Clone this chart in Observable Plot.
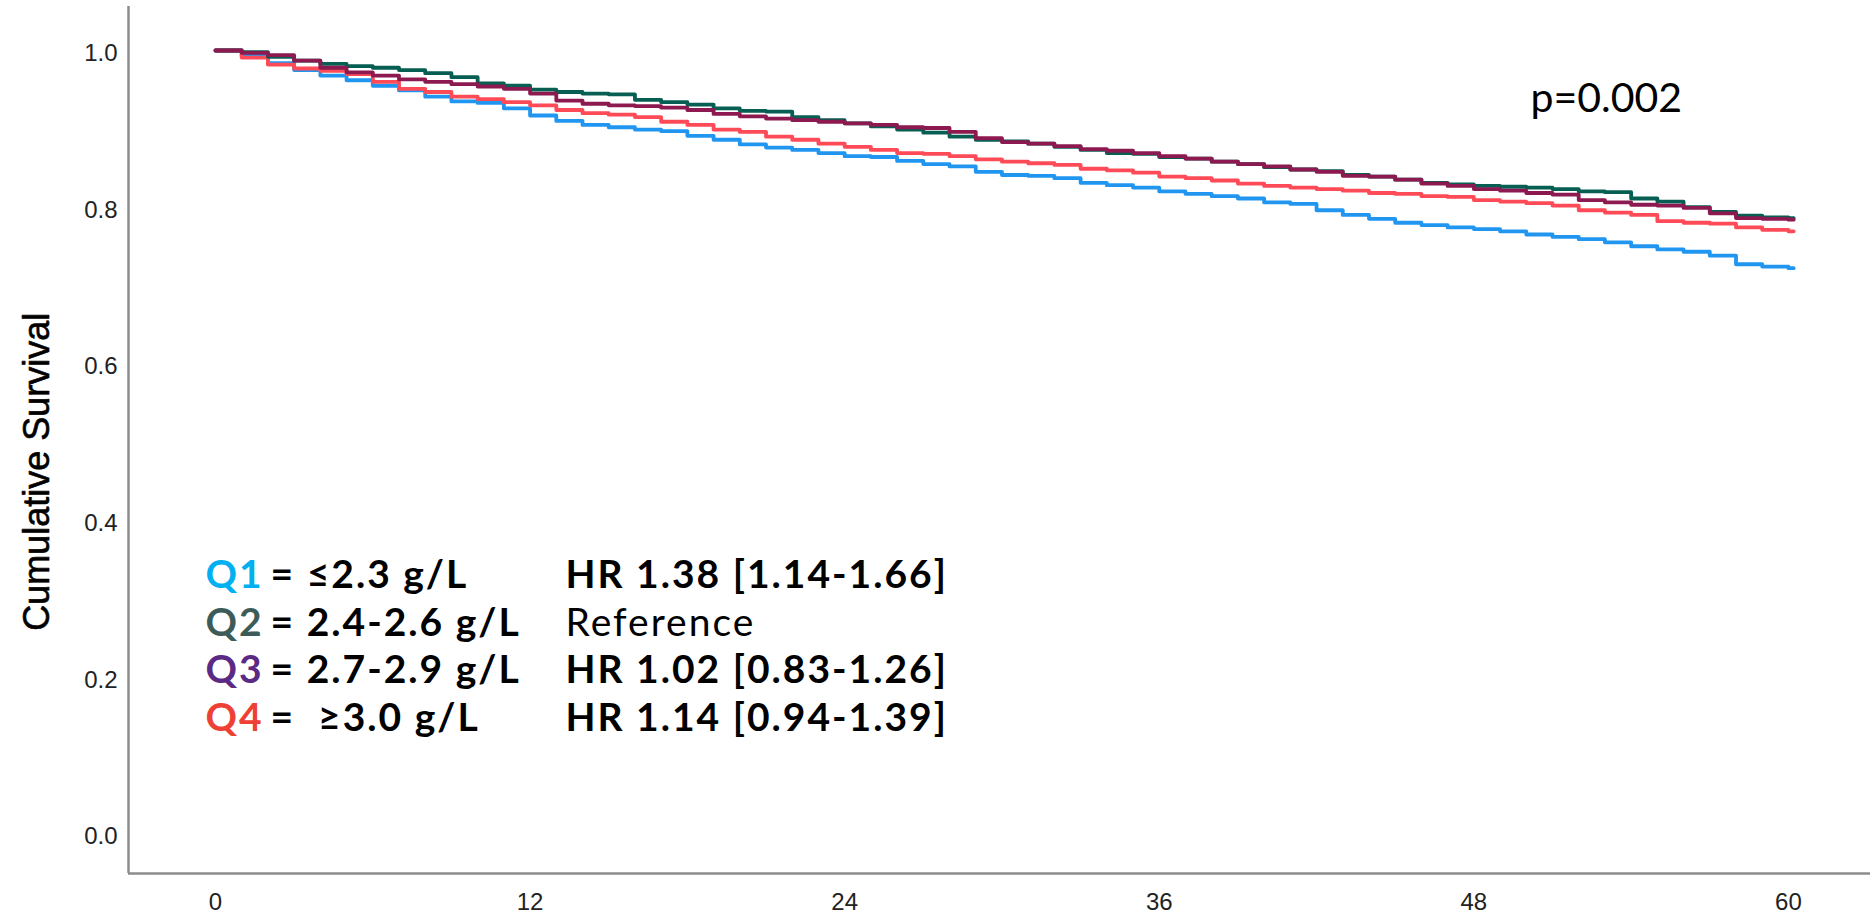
<!DOCTYPE html>
<html>
<head>
<meta charset="utf-8">
<script src="https://cdn.jsdelivr.net/npm/d3@7"></script>
<script src="https://cdn.jsdelivr.net/npm/@observablehq/plot@0.6"></script>
<style>
  html, body { margin: 0; padding: 0; background: #fff; }
  #chart svg { display: block; }
</style>
</head>
<body>
<div id="chart"></div>
<script>
// ---- Data ----
const months = [0,1,2,3,4,5,6,7,8,9,10,11,12,13,14,15,16,17,18,19,20,21,22,23,24,25,26,27,28,29,30,31,32,33,34,35,36,37,38,39,40,41,42,43,44,45,46,47,48,49,50,51,52,53,54,55,56,57,58,59,60,60.2];

const survQ1 = [1.000,0.993,0.984,0.975,0.968,0.962,0.955,0.949,0.941,0.935,0.933,0.926,0.917,0.910,0.905,0.902,0.899,0.897,0.891,0.886,0.880,0.876,0.873,0.869,0.865,0.864,0.859,0.855,0.852,0.845,0.841,0.840,0.837,0.831,0.828,0.825,0.820,0.817,0.814,0.811,0.806,0.804,0.796,0.790,0.785,0.780,0.777,0.774,0.772,0.769,0.765,0.762,0.759,0.755,0.750,0.746,0.743,0.738,0.727,0.724,0.722,0.722];
const survQ2 = [1.000,0.998,0.992,0.987,0.983,0.980,0.978,0.975,0.971,0.966,0.958,0.955,0.950,0.947,0.945,0.944,0.937,0.934,0.931,0.926,0.923,0.922,0.915,0.911,0.907,0.903,0.899,0.895,0.890,0.886,0.884,0.881,0.877,0.873,0.869,0.868,0.864,0.862,0.858,0.855,0.851,0.848,0.846,0.841,0.839,0.835,0.831,0.829,0.827,0.826,0.825,0.823,0.820,0.819,0.811,0.807,0.800,0.794,0.789,0.787,0.786,0.786];
const survQ3 = [1.000,0.997,0.994,0.987,0.978,0.972,0.968,0.963,0.960,0.957,0.954,0.951,0.945,0.936,0.932,0.930,0.929,0.927,0.924,0.919,0.916,0.913,0.911,0.909,0.907,0.905,0.902,0.901,0.896,0.888,0.883,0.881,0.878,0.874,0.872,0.869,0.865,0.862,0.858,0.855,0.852,0.848,0.845,0.840,0.839,0.835,0.830,0.827,0.823,0.821,0.818,0.816,0.809,0.806,0.803,0.802,0.799,0.792,0.786,0.785,0.784,0.784];
const survQ4 = [1.000,0.991,0.982,0.977,0.974,0.970,0.960,0.951,0.947,0.941,0.938,0.934,0.930,0.924,0.920,0.918,0.915,0.909,0.905,0.899,0.896,0.890,0.886,0.881,0.877,0.873,0.869,0.868,0.865,0.861,0.858,0.856,0.854,0.849,0.847,0.844,0.839,0.837,0.834,0.830,0.827,0.825,0.823,0.821,0.818,0.817,0.814,0.813,0.809,0.807,0.805,0.802,0.796,0.793,0.790,0.782,0.780,0.779,0.774,0.771,0.769,0.769];

const xTicks = [0, 12, 24, 36, 48, 60];
const yTicks = [0.0, 0.2, 0.4, 0.6, 0.8, 1.0];

const groupLabels = ["Q1", "Q2", "Q3", "Q4"];
const groupRanges = ["= \u22642.3 g/L", "= 2.4-2.6 g/L", "= 2.7-2.9 g/L", "= \u00a0\u22653.0 g/L"];
const groupHR = ["HR 1.38 [1.14-1.66]", "Reference", "HR 1.02 [0.83-1.26]", "HR 1.14 [0.94-1.39]"];
const pValueText = "p=0.002";
const yTitle = "Cumulative Survival";

// ---- Styles ----
const lineColors = {Q1: "#2196f0", Q2: "#075e52", Q3: "#8c1a50", Q4: "#ff4b57"};
const labelColors = {Q1: "#00b0f0", Q2: "#3d5c59", Q3: "#5b2a84", Q4: "#ef4035"};
const series = {Q1: survQ1, Q2: survQ2, Q3: survQ3, Q4: survQ4};
const drawOrder = ["Q1", "Q4", "Q2", "Q3"];
const legendFont = "Lato, 'Open Sans', sans-serif";
const legendSize = 39;

const xDomain = [-3.318, 63.13];
const yDomain = [-0.0511, 1.0562];

const toRows = (vals) => months.map((m, i) => ({month: m, surv: vals[i]}));

const legendTop = 0.3295, legendStep = 0.0609;
const legendMarks = [];
groupLabels.forEach((g, i) => {
  const yv = legendTop - i * legendStep;
  const common = {y: () => yv, text: d => d, textAnchor: "start", fontSize: legendSize, fontFamily: legendFont};
  legendMarks.push(Plot.text([g], {...common, x: () => -0.38, fill: labelColors[g], fontWeight: 700}));
  legendMarks.push(Plot.text([groupRanges[i]], {...common, x: () => 2.1, fill: "#000", fontWeight: 700}));
  legendMarks.push(Plot.text([groupHR[i]], {...common, x: () => 13.35, fill: "#000", fontWeight: g === "Q2" ? 400 : 700}));
});

const chart = Plot.plot({
  width: 1870,
  height: 915,
  marginLeft: 128,
  marginRight: 0,
  marginTop: 6,
  marginBottom: 42,
  x: {domain: xDomain},
  y: {domain: yDomain},
  style: {fontFamily: "'Liberation Sans', Arial, sans-serif", fontSize: "24px", color: "#222", background: "#fff"},
  marks: [
    Plot.ruleX([xDomain[0]], {stroke: "#8c8c8c", strokeWidth: 2.5}),
    Plot.ruleY([yDomain[0]], {stroke: "#8c8c8c", strokeWidth: 2.5}),
    Plot.axisX({ticks: xTicks, tickSize: 0, tickPadding: 19, label: null, fontSize: 24}),
    Plot.axisY({ticks: yTicks, tickSize: 0, tickPadding: 11, label: null, fontSize: 24, dy: 3, tickFormat: d => d.toFixed(1)}),
    ...drawOrder.map(g => Plot.line(toRows(series[g]), {x: "month", y: "surv", curve: "step-after", stroke: lineColors[g], strokeWidth: 3.8})),
    Plot.text([yTitle], {frameAnchor: "left", y: () => 0.462, dx: -91, rotate: -90, textAnchor: "middle", text: d => d, fontSize: 36, fill: "#000", stroke: "#000", strokeWidth: 0.6}),
    Plot.text([pValueText], {x: () => 50.16, y: () => 0.938, text: d => d, textAnchor: "start", fontSize: 41, fill: "#000", fontFamily: legendFont}),
    ...legendMarks
  ]
});

// Slight letter spacing on the legend texts (Calibri-like width)
const legendStrings = new Set([...groupLabels, ...groupRanges, ...groupHR]);
d3.select(chart).selectAll("text").each(function () {
  if (legendStrings.has(this.textContent)) this.style.letterSpacing = "2px";
});

document.getElementById("chart").appendChild(chart);
</script>
</body>
</html>
